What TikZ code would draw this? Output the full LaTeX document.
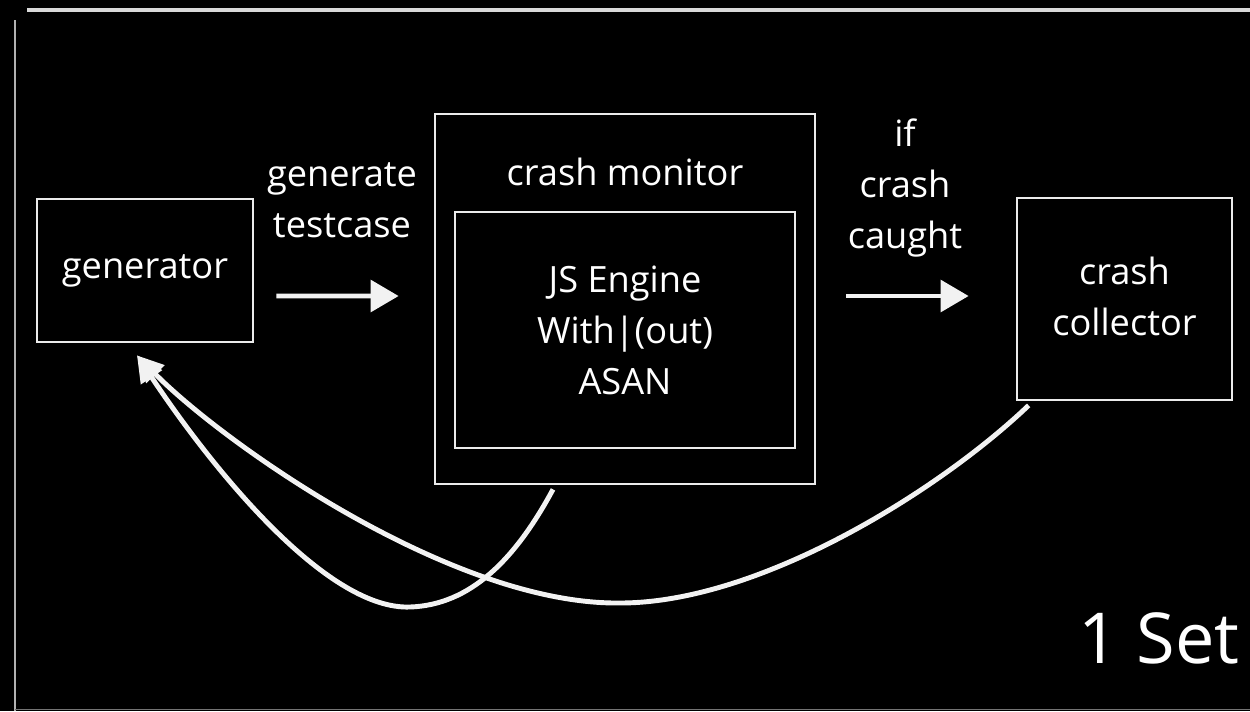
\documentclass[tikz,border=0pt]{standalone}
\usepackage{fontspec}
\setmainfont{Open Sans}
\usetikzlibrary{arrows.meta,calc}

\begin{document}
\begin{tikzpicture}[x=0.02cm,y=-0.02cm,
  chalk/.style={draw=white!92!black, line width=1.6pt},
  txt/.style={text=white, font=\fontsize{20.6}{29}\selectfont, align=center, inner sep=0pt},
  box/.style={chalk, txt},
  flow/.style={white!95!black, line width=2.6pt, -{Triangle[length=16pt,width=18pt]}},
  back/.style={white!95!black, line width=2.8pt, -{Triangle[length=15pt,width=14pt]}}]

% page and background
\fill[black] (0,0) rectangle (1250,711);
\useasboundingbox (0,0) rectangle (1250,711);

% board frame
\draw[white!85!black, line width=1.8pt] (27,10) -- (1250,10);
\draw[white!70!black, line width=1.2pt] (15,20) -- (15,711);
\draw[white!45!black, line width=1pt] (15,709.5) -- (1250,709.5);

% components
\node[box, minimum width=4.32cm, minimum height=2.86cm] (gen) at (145,270.5) {generator};
\node[chalk, minimum width=7.6cm, minimum height=7.4cm] (mon) at (625,299) {};
\node[txt] (montitle) at (625,172) {crash monitor};
\node[box, minimum width=6.8cm, minimum height=4.72cm] (eng) at (625,330) {JS Engine\\With|(out)\\ASAN};
\node[chalk, minimum width=4.3cm, minimum height=4.04cm] (col) at (1124.5,299) {};
\node[txt] (coltxt) at (1124.5,296) {crash\\collector};

% edge labels
\node[txt] (gentxt) at (342,200) {generate\\testcase};
\node[txt] (iftxt) at (905,188) {if\\crash\\caught};
\node[text=white, font=\fontsize{40}{48}\selectfont, anchor=base east, inner sep=0pt] (set) at (1240,663) {1 Set};

% forward flow
\draw[flow] ($(gen.east)+(22,25.5)$) -- ($(mon.west)+(-35,-3)$);
\draw[flow] ($(mon.east)+(30,-3)$) -- ($(col.west)+(-47,-3)$);

% feedback to the generator
\coordinate (tip) at ($(gen.south)+(-8,12)$);
\draw[back] ($(mon.south)+(-72,4)$) .. controls (515,560) and (470,605) .. (410,607)
  .. controls (330,610) and (220,480) .. (tip);
\draw[back] ($(col.south west)+(13,4)$) .. controls (940,490) and (760,603) .. (620,603)
  .. controls (450,605) and (220,440) .. (tip);
\end{tikzpicture}
\end{document}
